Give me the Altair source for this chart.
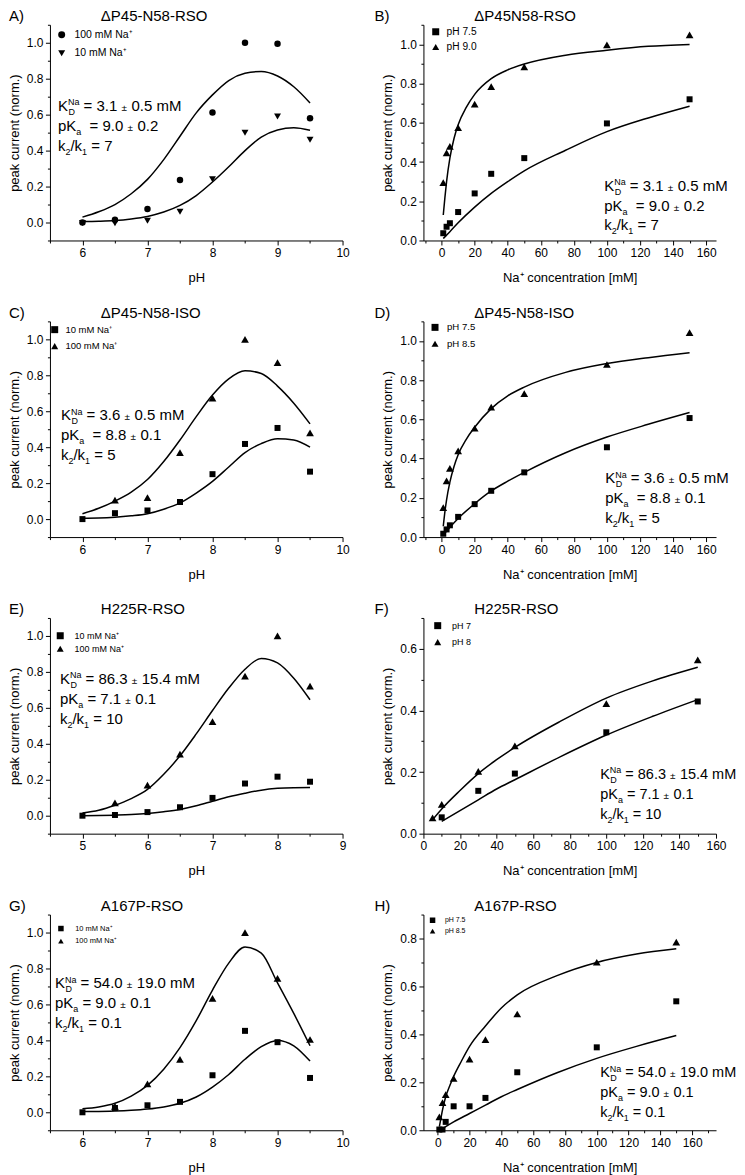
import altair as alt
import pandas as pd

FONT = "Liberation Sans"
W, H = 293, 216
GAP = 81

# ------------------------------------------------------------------ data
PH = [6, 6.5, 7, 7.5, 8, 8.5, 9, 9.5]
PH_C = [6, 6.5, 7, 7.5, 8, 8.5, 9, 9.5]
PH_C100 = [6.5, 7, 7.5, 8, 8.5, 9, 9.5]
PH_E = [5, 5.5, 6, 6.5, 7, 7.5, 8, 8.5]
PH_E100 = [5.5, 6, 6.5, 7, 7.5, 8, 8.5]
PH_G100 = [6.5, 7, 7.5, 8, 8.5, 9, 9.5]
PH_FIT = [6, 6.25, 6.5, 6.75, 7, 7.25, 7.5, 7.75, 8, 8.25, 8.5, 8.75, 9, 9.25, 9.5]
PH_E_FIT = [5, 5.25, 5.5, 5.75, 6, 6.25, 6.5, 6.75, 7, 7.25, 7.5, 7.75, 8, 8.25, 8.5]
NA = [1, 3, 5, 10, 20, 30, 50, 100, 150]
NA_F7 = [10, 30, 50, 100, 150]
NA_F8 = [5, 10, 30, 50, 100, 150]
NA_FIT = [1, 2, 3, 5, 7.5, 10, 15, 20, 30, 40, 50, 75, 100, 125, 150]
NA_FIT2 = [1, 5, 10, 20, 30, 40, 50, 75, 100, 125, 150]
NA_H_FIT2 = [2, 5, 10, 20, 30, 40, 50, 75, 100, 125, 150]
NA_F_FIT8 = [5, 10, 20, 30, 40, 50, 75, 100, 125, 150]
NA_F_FIT7 = [10, 20, 30, 40, 50, 75, 100, 125, 150]

# A) dP45-N58-RSO, pH dependence
A_100 = [0.0, 0.015, 0.075, 0.236, 0.612, 1.0, 0.995, 0.58]
A_10 = [-0.003, -0.004, 0.01, 0.06, 0.24, 0.5, 0.59, 0.46]
A_FIT_100 = [0.03, 0.06, 0.10, 0.16, 0.24, 0.35, 0.48, 0.61, 0.71, 0.79, 0.83, 0.84, 0.815, 0.755, 0.665]
A_FIT_10 = [0.005, 0.007, 0.011, 0.02, 0.034, 0.058, 0.095, 0.15, 0.225, 0.31, 0.40, 0.475, 0.515, 0.527, 0.513]
# B) Na dependence
B_75 = [0.037, 0.07, 0.088, 0.145, 0.24, 0.34, 0.42, 0.597, 0.72]
B_90 = [0.295, 0.447, 0.48, 0.575, 0.695, 0.785, 0.885, 0.998, 1.048]
B_FIT_90 = [0.13, 0.22, 0.30, 0.42, 0.52, 0.59, 0.68, 0.745, 0.825, 0.87, 0.90, 0.945, 0.97, 0.99, 1.0]
B_FIT_75 = [0.01, 0.045, 0.09, 0.17, 0.24, 0.30, 0.355, 0.46, 0.555, 0.625, 0.685]
# C) dP45-N58-ISO
C_10 = [0.0, 0.033, 0.048, 0.095, 0.25, 0.418, 0.507, 0.264]
C_100 = [0.106, 0.119, 0.37, 0.673, 1.0, 0.87, 0.48]
C_FIT_100 = [0.03, 0.06, 0.10, 0.15, 0.22, 0.32, 0.44, 0.57, 0.69, 0.78, 0.825, 0.81, 0.74, 0.645, 0.53]
C_FIT_10 = [0.005, 0.006, 0.01, 0.018, 0.03, 0.055, 0.09, 0.145, 0.21, 0.29, 0.37, 0.42, 0.447, 0.44, 0.40]
# D)
D_75 = [0.017, 0.039, 0.06, 0.103, 0.168, 0.236, 0.33, 0.458, 0.607]
D_85 = [0.15, 0.287, 0.35, 0.44, 0.555, 0.663, 0.732, 0.88, 1.043]
D_FIT_85 = [0.055, 0.13, 0.19, 0.28, 0.36, 0.42, 0.50, 0.56, 0.655, 0.72, 0.765, 0.84, 0.885, 0.915, 0.94]
D_FIT_75 = [0.01, 0.05, 0.095, 0.17, 0.235, 0.285, 0.33, 0.43, 0.51, 0.575, 0.635]
# E) H225R-RSO
E_10 = [0.0, 0.004, 0.02, 0.047, 0.099, 0.179, 0.217, 0.189]
E_100 = [0.071, 0.17, 0.342, 0.523, 0.776, 1.0, 0.721]
E_FIT_100 = [0.015, 0.03, 0.058, 0.095, 0.146, 0.23, 0.333, 0.455, 0.585, 0.71, 0.815, 0.875, 0.85, 0.765, 0.645]
E_FIT_10 = [0.0, 0.001, 0.003, 0.006, 0.012, 0.022, 0.035, 0.055, 0.08, 0.105, 0.125, 0.142, 0.152, 0.156, 0.157]
# F)
F_7 = [0.053, 0.139, 0.195, 0.329, 0.429]
F_8 = [0.051, 0.095, 0.202, 0.285, 0.422, 0.564]
F_FIT_8 = [0.045, 0.08, 0.14, 0.195, 0.24, 0.28, 0.365, 0.44, 0.495, 0.54]
F_FIT_7 = [0.04, 0.075, 0.11, 0.145, 0.175, 0.25, 0.32, 0.38, 0.435]
# G) A167P-RSO
G_10 = [0.0, 0.024, 0.039, 0.058, 0.206, 0.453, 0.39, 0.191]
G_100 = [0.033, 0.158, 0.294, 0.634, 1.0, 0.745, 0.405]
G_FIT_100 = [0.02, 0.03, 0.05, 0.09, 0.15, 0.24, 0.36, 0.51, 0.68, 0.83, 0.92, 0.885, 0.72, 0.55, 0.37]
G_FIT_10 = [0.005, 0.005, 0.007, 0.011, 0.018, 0.03, 0.05, 0.085, 0.14, 0.21, 0.295, 0.365, 0.40, 0.37, 0.285]
# H)
H_75 = [0.003, 0.003, 0.035, 0.1, 0.1, 0.135, 0.242, 0.346, 0.538]
H_85 = [0.056, 0.115, 0.149, 0.216, 0.297, 0.378, 0.485, 0.701, 0.785]
H_FIT_85 = [0.015, 0.05, 0.085, 0.14, 0.185, 0.225, 0.29, 0.35, 0.435, 0.51, 0.565, 0.645, 0.70, 0.735, 0.757]
H_FIT_75 = [0.002, 0.015, 0.035, 0.07, 0.105, 0.14, 0.17, 0.24, 0.30, 0.35, 0.395]

# tick values
PH_MAJ = [6, 7, 8, 9, 10]
PH_MIN = [5.5, 6.5, 7.5, 8.5, 9.5]
PHE_MAJ = [5, 6, 7, 8, 9]
PHE_MIN = [4.5, 5.5, 6.5, 7.5, 8.5]
NA_MAJ = [0, 20, 40, 60, 80, 100, 120, 140, 160]
NA_MIN_BD = [-10, 10, 30, 50, 70, 90, 110, 130, 150]
NA_MIN_F = [10, 30, 50, 70, 90, 110, 130, 150]
NA_MIN_H = [10, 30, 50, 70, 90, 110, 130, 150, 170]
Y_MAJ = [0, 0.2, 0.4, 0.6, 0.8, 1.0]
Y_MIN_PH = [-0.1, 0.1, 0.3, 0.5, 0.7, 0.9, 1.1]
Y_MIN_NA = [0.1, 0.3, 0.5, 0.7, 0.9, 1.1]
YF_MAJ = [0, 0.2, 0.4, 0.6]
YF_MIN = [0.1, 0.3, 0.5, 0.7]
YH_MAJ = [0, 0.2, 0.4, 0.6, 0.8]
YH_MIN = [0.1, 0.3, 0.5, 0.7, 0.9]

NA_T = "10 mM Na\u207a"
NA100_T = "100 mM Na\u207a"
XT_PH = "pH"
XT_NA = "Na\u207a concentration [mM]"
YT = "peak current (norm.)"

# marker sizes (area, px^2) by shape
MSIZE = {"circle": 42, "square": 36, "triangle-up": 60, "triangle-down": 48}

PANELS = [
    dict(tag="A)", title="\u0394P45-N58-RSO", xdom=[5.5, 10], ydom=[-0.1, 1.1],
         xt=XT_PH, xmaj=PH_MAJ, xmin=PH_MIN, ymaj=Y_MAJ, ymin=Y_MIN_PH,
         series=[(NA100_T, "circle", PH, A_100), (NA_T, "triangle-down", PH, A_10)],
         fits=[(PH_FIT, A_FIT_100), (PH_FIT, A_FIT_10)],
         ann=("3.1", "0.5", "9.0", "0.2", "7", 2), apos=(8, 86), afs=15, tagx=-41,
         leg=(10, 10, 18, 21, 10.5)),
    dict(tag="B)", title="\u0394P45N58-RSO", xdom=[-11, 166], ydom=[0, 1.1],
         xt=XT_NA, xmaj=NA_MAJ, xmin=NA_MIN_BD, ymaj=Y_MAJ, ymin=Y_MIN_NA,
         series=[("pH 7.5", "square", NA, B_75), ("pH 9.0", "triangle-up", NA, B_90)],
         fits=[(NA_FIT, B_FIT_90), (NA_FIT2, B_FIT_75)],
         ann=("3.1", "0.5", "9.0", "0.2", "7", 2), apos=(181, 166), afs=15, tagx=-49,
         leg=(10.7, 7, 14.5, 20, 10.2)),
    dict(tag="C)", title="\u0394P45-N58-ISO", xdom=[5.5, 10], ydom=[-0.1, 1.1],
         xt=XT_PH, xmaj=PH_MAJ, xmin=PH_MIN, ymaj=Y_MAJ, ymin=Y_MIN_PH,
         series=[(NA_T, "square", PH_C, C_10), (NA100_T, "triangle-up", PH_C100, C_100)],
         fits=[(PH_FIT, C_FIT_100), (PH_FIT, C_FIT_10)],
         ann=("3.6", "0.5", "8.8", "0.1", "5", 2), apos=(11, 99), afs=15, tagx=-41,
         leg=(3.5, 8.3, 15, 13, 9.5)),
    dict(tag="D)", title="\u0394P45-N58-ISO", xdom=[-11, 166], ydom=[0, 1.1],
         xt=XT_NA, xmaj=NA_MAJ, xmin=NA_MIN_BD, ymaj=Y_MAJ, ymin=Y_MIN_NA,
         series=[("pH 7.5", "square", NA, D_75), ("pH 8.5", "triangle-up", NA, D_85)],
         fits=[(NA_FIT, D_FIT_85), (NA_FIT2, D_FIT_75)],
         ann=("3.6", "0.5", "8.8", "0.1", "5", 2), apos=(182, 162), afs=15, tagx=-49,
         leg=(10.3, 6, 15, 21, 9.6)),
    dict(tag="E)", title="H225R-RSO", xdom=[4.5, 9], ydom=[-0.1, 1.1],
         xt=XT_PH, xmaj=PHE_MAJ, xmin=PHE_MIN, ymaj=Y_MAJ, ymin=Y_MIN_PH,
         series=[(NA_T, "square", PH_E, E_10), (NA100_T, "triangle-up", PH_E100, E_100)],
         fits=[(PH_E_FIT, E_FIT_100), (PH_E_FIT, E_FIT_10)],
         ann=("86.3", "15.4", "7.1", "0.1", "10", 1), apos=(10, 66), afs=15, tagx=-41,
         leg=(9.3, 17.8, 12, 22.7, 9)),
    dict(tag="F)", title="H225R-RSO", xdom=[0, 160], ydom=[0, 0.7],
         xt=XT_NA, xmaj=NA_MAJ, xmin=NA_MIN_F, ymaj=YF_MAJ, ymin=YF_MIN,
         series=[("pH 7", "square", NA_F7, F_7), ("pH 8", "triangle-up", NA_F8, F_8)],
         fits=[(NA_F_FIT8, F_FIT_8), (NA_F_FIT7, F_FIT_7)],
         ann=("86.3", "15.4", "7.1", "0.1", "10", 1), apos=(177, 161), afs=14.5, tagx=-49,
         leg=(13.3, 7.7, 15.5, 26.6, 9)),
    dict(tag="G)", title="A167P-RSO", xdom=[5.5, 10], ydom=[-0.1, 1.1],
         xt=XT_PH, xmaj=PH_MAJ, xmin=PH_MIN, ymaj=Y_MAJ, ymin=Y_MIN_PH,
         series=[(NA_T, "square", PH, G_10), (NA100_T, "triangle-up", PH_G100, G_100)],
         fits=[(PH_FIT, G_FIT_100), (PH_FIT, G_FIT_10)],
         ann=("54.0", "19.0", "9.0", "0.1", "0.1", 1), apos=(5, 74), afs=15, tagx=-41,
         leg=(10, 14, 11, 23.3, 7.5)),
    dict(tag="H)", title="A167P-RSO", xdom=[-9, 175], ydom=[0, 0.9],
         xt=XT_NA, xmaj=NA_MAJ, xmin=NA_MIN_H, ymaj=YH_MAJ, ymin=YH_MIN,
         series=[("pH 7.5", "square", NA, H_75), ("pH 8.5", "triangle-up", NA, H_85)],
         fits=[(NA_FIT, H_FIT_85), (NA_H_FIT2, H_FIT_75)],
         ann=("54.0", "19.0", "9.0", "0.1", "0.1", 1), apos=(177, 163), afs=14.5, tagx=-49,
         leg=(8.4, 5.7, 10, 20, 7)),
]

# ------------------------------------------------------------------ text helpers
CW = {" ": 278, "=": 584, ".": 278, "/": 278, "\u00b1": 584, "K": 667, "N": 722,
      "D": 722, "M": 833, "a": 556, "k": 500, "m": 833, "p": 556}


def tw(s, fs):
    return sum(CW.get(c, 556) for c in s) * fs / 1000.0


SMALL, PMS, LS = 9, 10, 20
TITLE_FS = 15


def ann_segments(kd, kd_err, pka, pka_err, ratio, gap, big):
    segs = []
    sp = tw(" ", big)
    x, y = 0.0, 0.0
    segs.append(("K", x, y, big)); x += tw("K", big)
    segs.append(("Na", x, y - 5.5, SMALL)); segs.append(("D", x + 0.5, y + 4, SMALL))
    x += tw("Na", SMALL) + sp
    s = "= " + kd; segs.append((s, x, y, big)); x += tw(s, big) + sp
    segs.append(("\u00b1", x, y, PMS)); x += tw("\u00b1", PMS) + sp
    segs.append((kd_err + " mM", x, y, big))
    x, y = 0.0, LS
    segs.append(("pK", x, y, big)); x += tw("pK", big)
    segs.append(("a", x, y + 4, SMALL)); x += tw("a", SMALL) + sp * gap
    s = "= " + pka; segs.append((s, x, y, big)); x += tw(s, big) + sp
    segs.append(("\u00b1", x, y, PMS)); x += tw("\u00b1", PMS) + sp
    segs.append((pka_err, x, y, big))
    x, y = 0.0, 2 * LS
    segs.append(("k", x, y, big)); x += tw("k", big)
    segs.append(("2", x, y + 4, SMALL)); x += tw("2", SMALL)
    segs.append(("/k", x, y, big)); x += tw("/k", big)
    segs.append(("1", x, y + 4, SMALL)); x += tw("1", SMALL) + sp
    segs.append(("= " + ratio, x, y, big))
    return segs


def build_panel(p):
    x0, x1 = p["xdom"]
    y0, y1 = p["ydom"]
    xs = alt.Scale(domain=[x0, x1], nice=False, zero=False)
    ys = alt.Scale(domain=[y0, y1], nice=False, zero=False)

    def px2data(rx, ry):
        return x0 + rx / W * (x1 - x0), y1 - ry / H * (y1 - y0)

    # points
    rows = []
    for k, (name, _shape, xv, yv) in enumerate(p["series"]):
        for a, b in zip(xv, yv):
            rows.append({"x": a, "y": b, "series": name, "k": k})
    pts = pd.DataFrame(rows)
    names = [s[0] for s in p["series"]]
    shapes = [s[1] for s in p["series"]]
    sizes = [MSIZE[s] for s in shapes]

    sx, sy, stride, tx, lfs = p["leg"]
    d = 7 if lfs >= 9 else 5.5
    hrow = max(d, lfs)
    legend = alt.Legend(
        title=None, orient="none", legendX=sx - d / 2, legendY=sy - hrow / 2,
        padding=0, symbolSize=d * d, symbolFillColor="black", symbolStrokeColor="black",
        symbolStrokeWidth=0, labelFont=FONT, labelFontSize=lfs, labelColor="black",
        labelOffset=tx - (sx + d / 2), rowPadding=max(0, stride - hrow), labelLimit=300,
    )

    xaxis = alt.Axis(values=p["xmaj"], format="d", title=p["xt"], orient="bottom",
                     tickSize=4.5, labelPadding=2.5, titlePadding=13, labelFlush=False,
                     labelOverlap=False, grid=False)
    yaxis = alt.Axis(values=p["ymaj"], format=".1f", title=YT, orient="left",
                     tickSize=4.5, labelPadding=2.5, titlePadding=5, labelFlush=False,
                     labelOverlap=False, grid=False)
    xminor = alt.Axis(values=p["xmin"], orient="bottom", tickSize=2.5, labels=False,
                      title=None, domain=False, grid=False)
    yminor = alt.Axis(values=p["ymin"], orient="left", tickSize=2.5, labels=False,
                      title=None, domain=False, grid=False)

    pts_layer = alt.Chart(pts).mark_point(filled=True, color="black", opacity=1).encode(
        x=alt.X("x:Q", scale=xs, axis=xaxis),
        y=alt.Y("y:Q", scale=ys, axis=yaxis),
        shape=alt.Shape("series:N", scale=alt.Scale(domain=names, range=shapes), legend=legend),
        size=alt.condition("datum.k == 1", alt.value(sizes[1]), alt.value(sizes[0])),
    )
    minor_layer = alt.Chart(pts).mark_point(opacity=0).encode(
        x=alt.X("x:Q", scale=xs, axis=xminor),
        y=alt.Y("y:Q", scale=ys, axis=yminor),
    )

    frows = []
    for i, (fx, fy) in enumerate(p["fits"]):
        for a, b in zip(fx, fy):
            frows.append({"x": a, "y": b, "c": i})
    fits = pd.DataFrame(frows)
    line_layer = alt.Chart(fits).mark_line(color="black", strokeWidth=1.5,
                                           interpolate="monotone").encode(
        x=alt.X("x:Q", scale=xs, axis=None),
        y=alt.Y("y:Q", scale=ys, axis=None),
        detail="c:N",
    )

    trows = []
    ax, ay = p["apos"]
    for t, dx, dy, fs in ann_segments(*p["ann"], p["afs"]):
        X, Y = px2data(ax + dx, ay + dy)
        trows.append({"x": X, "y": Y, "t": t, "fs": fs})
    tdf = pd.DataFrame(trows)
    text_layer = alt.Chart(tdf).mark_text(align="left", baseline="alphabetic", font=FONT,
                                          color="black").encode(
        x=alt.X("x:Q", scale=xs, axis=None),
        y=alt.Y("y:Q", scale=ys, axis=None),
        text="t:N",
        size=alt.Size("fs:Q", scale=None),
    )

    # panel tag and title
    hrows = []
    X, Y = px2data(p["tagx"], -15.5)
    hrows.append({"x": X, "y": Y, "t": p["tag"]})
    X, Y = px2data(51, -15.5)
    hrows.append({"x": X, "y": Y, "t": p["title"]})
    head_layer = alt.Chart(pd.DataFrame(hrows)).mark_text(
        align="left", baseline="top", font=FONT, fontSize=TITLE_FS, color="black").encode(
        x=alt.X("x:Q", scale=xs, axis=None),
        y=alt.Y("y:Q", scale=ys, axis=None),
        text="t:N",
    )

    return alt.layer(line_layer, pts_layer, minor_layer, text_layer, head_layer).resolve_axis(
        x="independent", y="independent").properties(width=W, height=H)


panels = [build_panel(p) for p in PANELS]

chart = alt.concat(
    *panels, columns=2, spacing=GAP, bounds="flush"
).resolve_scale(shape="independent").properties(
    padding={"left": 0, "top": 0, "right": 0, "bottom": 0},
).configure_view(
    stroke=None
).configure_axis(
    domainColor="black", tickColor="black", labelColor="black", titleColor="black",
    labelFont=FONT, titleFont=FONT, labelFontSize=12, titleFontSize=13,
    titleFontWeight="normal", domainWidth=1, tickWidth=1,
)

chart.save("out.html", embed_options={"renderer": "svg", "actions": False})
